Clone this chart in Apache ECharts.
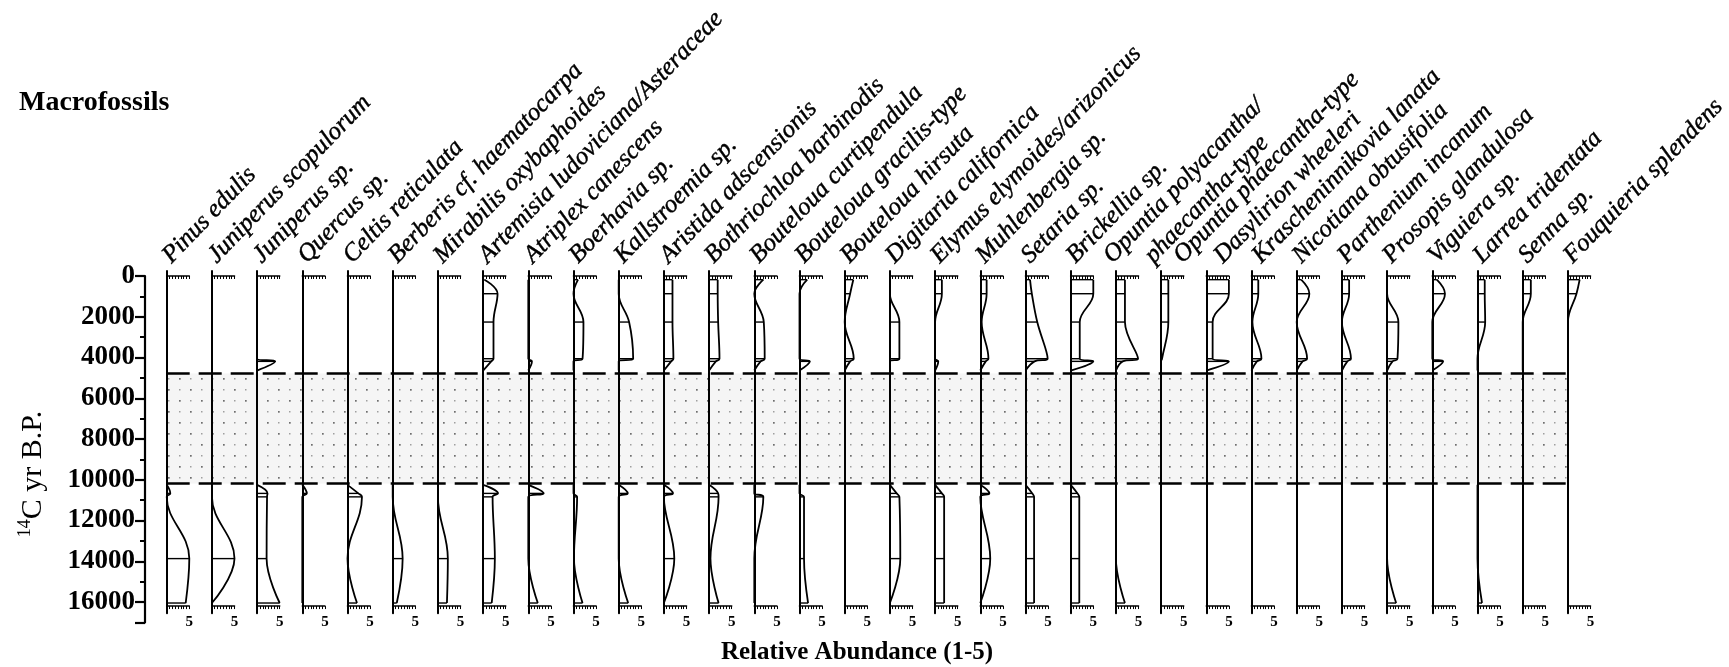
<!DOCTYPE html>
<html>
<head>
<meta charset="utf-8">
<script src="https://cdn.jsdelivr.net/npm/echarts@6/dist/echarts.min.js"></script>
<style>
  html, body { margin: 0; padding: 0; background: #fff; }
  #chart { width: 1729px; height: 667px; }
</style>
</head>
<body>
<div id="chart"></div>
<script>
// ---- Data -------------------------------------------------------------
const taxa = [
  'Pinus edulis', 'Juniperus scopulorum', 'Juniperus sp.', 'Quercus sp.',
  'Celtis reticulata', 'Berberis cf. haematocarpa', 'Mirabilis oxybaphoides',
  'Artemisia ludoviciana/Asteraceae', 'Atriplex canescens', 'Boerhavia sp.',
  'Kallstroemia sp.', 'Aristida adscensionis', 'Bothriochloa barbinodis',
  'Bouteloua curtipendula', 'Bouteloua gracilis-type', 'Bouteloua hirsuta',
  'Digitaria californica', 'Elymus elymoides/arizonicus', 'Muhlenbergia sp.',
  'Setaria sp.', 'Brickellia sp.', 'Opuntia polyacantha/\nphaecantha-type',
  'Opuntia phaecantha-type', 'Dasylirion wheeleri', 'Krascheninnikovia lanata',
  'Nicotiana obtusifolia', 'Parthenium incanum', 'Prosopis glandulosa',
  'Viguiera sp.', 'Larrea tridentata', 'Senna sp.', 'Fouquieria splendens'
];

// sample ages (14C yr B.P.)
const holoceneAges = [180, 870, 2260, 4060, 4190, 4640];
const lateGlacialAges = [10250, 10670, 10840, 13870, 16050];

// relative abundance (1-5), one row per taxon, same order as taxa
const holoceneAbundance = [
  [0, 0, 0, 0, 0, 0],
  [0, 0, 0, 0, 0, 0],
  [0, 0, 0, 0, 4, 0],
  [0, 0, 0, 0, 0, 0],
  [0, 0, 0, 0, 0, 0],
  [0, 0, 0, 0, 0, 0],
  [0, 0, 0, 0, 0, 0],
  [0.3, 3.2, 2.3, 2.3, 1.8, 0],
  [0, 0, 0, 0, 0.8, 0],
  [1, 0, 2.2, 2, 0, 0],
  [0, 0, 2.3, 3.2, 0, 0],
  [1.9, 1.9, 1.9, 2.1, 1.6, 0],
  [1.9, 1.9, 2, 2.3, 1.5, 0],
  [2, 0, 2.1, 2.3, 1.4, 0],
  [1.7, 0, 0, 0, 2.3, 0],
  [1.9, 1.2, 0, 2, 1.2, 0],
  [0, 0, 2.1, 2.1, 0, 0],
  [1.5, 1.5, 0, 0, 0.7, 0],
  [1.4, 1.4, 0.3, 1.8, 1.2, 0],
  [1, 1.4, 2.6, 4.9, 2, 0],
  [5, 5, 2, 2, 5, 0],
  [2, 2, 2, 4.9, 1.5, 0],
  [1.6, 1.6, 1.6, 0.2, 0, 0],
  [5, 5, 1.4, 1.4, 5, 0],
  [1.5, 1.5, 0.2, 2.2, 1.2, 0],
  [1, 2.8, 0, 2.3, 1.3, 0],
  [1.6, 1.6, 0, 2, 1.2, 0],
  [0, 0, 2.5, 2.3, 1.2, 0],
  [1, 2.8, 0, 0, 2.4, 0],
  [1.6, 1.6, 1.7, 0, 0, 0],
  [1.8, 1.8, 0, 0, 0, 0],
  [2.6, 1.9, 0, 0, 0, 0]
];

const lateGlacialAbundance = [
  [0, 0.8, 0, 5, 4.2],
  [0, 0, 0, 5, 0],
  [0, 2.3, 2.2, 2.1, 5],
  [0, 1, 0, 0, 0],
  [0, 2.4, 3.2, 0, 2.1],
  [0, 0, 0, 2.2, 0.9],
  [0, 0, 0, 2.2, 2],
  [0, 3.3, 2.1, 2.6, 1.9],
  [0, 3.4, 0, 0, 2.1],
  [0, 0, 0.8, 0.1, 2],
  [0, 2, 0, 0, 2.1],
  [0, 2, 0, 2.3, 0],
  [0, 2, 2.1, 0.3, 2.1],
  [0, 0, 2, 0, 0],
  [0, 0, 1, 1, 1.9],
  [0, 0, 0, 0, 0],
  [0, 1.5, 2.1, 2.3, 0],
  [0, 1.5, 2, 2, 2],
  [0, 2, 0, 2.2, 0],
  [0, 1.5, 1.9, 1.9, 1.9],
  [0, 1.5, 1.9, 1.9, 1.9],
  [0, 0, 0, 0, 2],
  [0, 0, 0, 0, 0],
  [0, 0, 0, 0, 0],
  [0, 0, 0, 0, 0],
  [0, 0, 0, 0, 0],
  [0, 0, 0, 0, 0],
  [0, 0, 0, 0, 2],
  [0, 0, 0, 0, 0],
  [0, 0, 0, 0, 1],
  [0, 0, 0, 0, 0],
  [0, 0, 0, 0, 0]
];

// unsampled interval between the two groups of middens
const hiatus = [4780, 10180];

// age axis ticks
const ageAxis = { min: 0, max: 17000, major: 2000, minor: 1000, lastLabel: 16000 };
const abundanceAxis = { min: 0, max: 5, tick: 0.625, label: 5 };

// ---- Layout -----------------------------------------------------------
const SERIF = "'Liberation Serif', 'DejaVu Serif', serif";
const INK = '#000';
const AXIS_X = 145;
const COL_LEFT = 166.7, COL_STEP = 45.2, COL_WIDTH = 22.6;
const AGE0_Y = 276, PX_PER_YEAR = 0.020375;
const COL_MIN_AGE = -250, COL_MAX_AGE = 16550;   // span of each column's baseline
const COL_BOTTOM_AXIS_AGE = 16200;
const colX = i => COL_LEFT + i * COL_STEP;
const ageY = a => AGE0_Y + a * PX_PER_YEAR;

// horizontal nudges of a few taxon names relative to their column
const LABEL_DX = 9;
const labelShift = { 21: -8, 22: 17, 23: 12, 24: 5 };
const SECOND_LINE_DX = 42;

const colTop = ageY(COL_MIN_AGE);
const colHeight = (COL_MAX_AGE - COL_MIN_AGE) * PX_PER_YEAR;
const bottomAxisOffset = ageY(COL_BOTTOM_AXIS_AGE) - (colTop + colHeight);

function stipplePattern() {
  const c = document.createElement('canvas');
  c.width = 22; c.height = 22;
  const g = c.getContext('2d');
  g.fillStyle = '#f5f5f5';
  g.fillRect(0, 0, 22, 22);
  g.fillStyle = '#6e6e6e';
  g.fillRect(3, 4, 1.7, 1.7);
  g.fillRect(14, 15, 1.7, 1.7);
  g.fillStyle = '#9f9f9f';
  g.fillRect(14, 4, 1.5, 1.5);
  g.fillRect(3, 15, 1.5, 1.5);
  return c;
}

const grids = [];
const xAxes = [];
const yAxes = [];
const series = [];
const graphics = [];

// main age axis
grids.push({ left: AXIS_X, top: ageY(ageAxis.min), width: 1, height: (ageAxis.max - ageAxis.min) * PX_PER_YEAR });
xAxes.push({ gridIndex: 0, type: 'value', show: false });
yAxes.push({
  gridIndex: 0, type: 'value', position: 'left', offset: 0, inverse: true,
  min: ageAxis.min, max: ageAxis.max, interval: ageAxis.major,
  axisLine: { show: true, onZero: false, lineStyle: { color: INK, width: 2.2 } },
  axisTick: { show: true, length: 10, lineStyle: { color: INK, width: 2.2 } },
  axisLabel: {
    margin: 10, color: INK, fontFamily: SERIF, fontWeight: 'bold', fontSize: 27,
    formatter: v => (v % ageAxis.major === 0 && v <= ageAxis.lastLabel) ? String(v) : ''
  },
  splitLine: { show: false }
});
yAxes.push({
  gridIndex: 0, type: 'value', position: 'left', offset: 0, inverse: true,
  min: ageAxis.min, max: ageAxis.max, interval: ageAxis.minor,
  axisLine: { show: false },
  axisTick: { show: true, length: 5, lineStyle: { color: INK, width: 2 } },
  axisLabel: { show: false },
  splitLine: { show: false }
});

// hiatus band across all columns
grids.push({ left: colX(0), top: colTop, width: colX(taxa.length - 1) - colX(0), height: colHeight });
xAxes.push({ gridIndex: 1, type: 'value', min: 0, max: 1, show: false });
yAxes.push({ gridIndex: 1, type: 'value', inverse: true, min: COL_MIN_AGE, max: COL_MAX_AGE, show: false });
series.push({
  type: 'line', xAxisIndex: 1, yAxisIndex: 2, z: 1, silent: true,
  data: [[0, hiatus[0]]], symbol: 'none', lineStyle: { opacity: 0 },
  markArea: {
    silent: true,
    itemStyle: { color: { image: stipplePattern(), repeat: 'repeat' } },
    data: [[{ yAxis: hiatus[0] }, { yAxis: hiatus[1] }]]
  },
  markLine: {
    silent: true, symbol: ['none', 'none'], label: { show: false },
    lineStyle: { color: INK, width: 2.5, type: [23, 9] },
    data: [{ yAxis: hiatus[0] }, { yAxis: hiatus[1] }]
  }
});

const frameLine = { color: INK, width: 1.6 };

taxa.forEach((name, i) => {
  const gi = i + 2;
  const xi = 2 + 2 * i;
  const yi = 3 + i;
  grids.push({ left: colX(i), top: colTop, width: COL_WIDTH, height: colHeight });
  xAxes.push({
    gridIndex: gi, type: 'value', position: 'top', z: 3,
    min: abundanceAxis.min, max: abundanceAxis.max, interval: abundanceAxis.tick,
    axisLine: { show: true, onZero: true, lineStyle: frameLine },
    axisTick: { show: true, inside: true, length: 3, lineStyle: { color: INK, width: 1 } },
    axisLabel: { show: false }, splitLine: { show: false }
  });
  xAxes.push({
    gridIndex: gi, type: 'value', position: 'bottom', offset: bottomAxisOffset, z: 3,
    min: abundanceAxis.min, max: abundanceAxis.max, interval: abundanceAxis.tick,
    axisLine: { show: true, onZero: false, lineStyle: frameLine },
    axisTick: { show: true, length: 3, lineStyle: { color: INK, width: 1 } },
    axisLabel: {
      margin: 9, color: INK, fontFamily: SERIF, fontWeight: 'bold', fontSize: 15,
      showMaxLabel: true, showMinLabel: true,
      formatter: v => (Math.abs(v - abundanceAxis.label) < 1e-6 ? String(abundanceAxis.label) : '')
    },
    splitLine: { show: false }
  });
  yAxes.push({
    gridIndex: gi, type: 'value', inverse: true, z: 3,
    min: COL_MIN_AGE, max: COL_MAX_AGE,
    axisLine: { show: true, onZero: false, lineStyle: { color: INK, width: 2 } },
    axisTick: { show: false }, axisLabel: { show: false }, splitLine: { show: false }
  });

  const groups = [
    { ages: holoceneAges, values: holoceneAbundance[i] },
    { ages: lateGlacialAges, values: lateGlacialAbundance[i] }
  ];
  const samples = [];
  groups.forEach(gr => {
    if (!gr.values.some(v => v > 0)) return;
    series.push({
      type: 'line', xAxisIndex: xi, yAxisIndex: yi, z: 4, silent: true,
      data: gr.values.map((v, k) => [v, gr.ages[k]]),
      smooth: 0.4, symbol: 'none',
      lineStyle: { color: INK, width: 1.8 }
    });
    gr.values.forEach((v, k) => { if (v > 0) samples.push([v, gr.ages[k]]); });
  });
  if (samples.length) {
    series.push({
      type: 'custom', xAxisIndex: xi, yAxisIndex: yi, z: 4, silent: true,
      data: samples,
      renderItem: (params, api) => {
        const a = api.coord([0, api.value(1)]);
        const b = api.coord([api.value(0), api.value(1)]);
        return {
          type: 'line',
          shape: { x1: a[0], y1: a[1], x2: b[0], y2: b[1] },
          style: { stroke: INK, lineWidth: 1.4 }
        };
      }
    });
  }

  // taxon name, slanted above the column
  const lines = name.split('\n');
  const rot = 46 * Math.PI / 180;
  const labelStyle = {
    font: 'italic 25px ' + SERIF, fill: INK, stroke: INK, lineWidth: 0.45,
    textAlign: 'left', textVerticalAlign: 'bottom', align: 'left', verticalAlign: 'bottom'
  };
  const baseX = colX(i) + LABEL_DX + (labelShift[i] || 0);
  graphics.push({
    type: 'text', x: baseX, y: 268, rotation: rot, silent: true,
    style: Object.assign({ text: lines[0] }, labelStyle)
  });
  if (lines.length > 1) {
    graphics.push({
      type: 'text', x: colX(i) + SECOND_LINE_DX, y: 268, rotation: rot, silent: true,
      style: Object.assign({ text: lines[1] }, labelStyle)
    });
  }
});

// age axis title with superscript
graphics.push({
  type: 'text', x: 33, y: 474, rotation: Math.PI / 2, silent: true,
  style: {
    text: '{s|14}{m|C yr B.P.}',
    align: 'center', verticalAlign: 'middle', textAlign: 'center', textVerticalAlign: 'middle',
    fill: INK,
    rich: {
      s: { fontFamily: SERIF, fontSize: 18, verticalAlign: 'top', fill: INK, lineHeight: 34 },
      m: { fontFamily: SERIF, fontSize: 30, fill: INK, lineHeight: 34 }
    }
  }
});

// abundance axis title
graphics.push({
  type: 'text', x: 857, y: 653, silent: true,
  style: {
    text: 'Relative Abundance (1-5)', font: 'bold 25px ' + SERIF, fill: INK,
    align: 'center', verticalAlign: 'middle', textAlign: 'center', textVerticalAlign: 'middle'
  }
});

const chart = echarts.init(document.getElementById('chart'), null, { renderer: 'canvas' });
chart.setOption({
  animation: false,
  backgroundColor: '#fff',
  title: {
    text: 'Macrofossils', left: 14, top: 84,
    textStyle: { fontFamily: SERIF, fontSize: 28, fontWeight: 'bold', color: INK }
  },
  grid: grids,
  xAxis: xAxes,
  yAxis: yAxes,
  series: series,
  graphic: graphics
});
</script>
</body>
</html>
